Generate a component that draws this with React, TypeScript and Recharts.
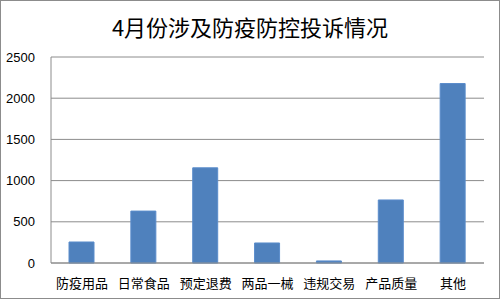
import { BarChart, Bar, XAxis, YAxis, CartesianGrid } from "recharts";

const categories = ["防疫用品", "日常食品", "预定退费", "两品一械", "违规交易", "产品质量", "其他"];
const counts = [255, 630, 1155, 243, 25, 765, 2178];
const yTicks = [0, 500, 1000, 1500, 2000, 2500];

const data = categories.map((name, i) => ({ name, value: counts[i] }));

const font = "'Liberation Sans', 'Noto Sans CJK SC', sans-serif";

export default function App() {
  return (
    <div
      style={{
        position: "absolute",
        left: 0,
        top: 0,
        width: 500,
        height: 299,
        boxSizing: "border-box",
        border: "1px solid #8c8c8c",
        background: "#fff",
        fontFamily: font,
      }}
    >
      <div
        style={{
          position: "absolute",
          left: 0,
          top: 10,
          width: "100%",
          textAlign: "center",
          fontSize: 22,
          lineHeight: "30px",
          fontFamily: "'Noto Sans CJK SC', serif",
          color: "#000",
        }}
      >
        4月份涉及防疫防控投诉情况
      </div>
      <div style={{ position: "absolute", left: -1, top: -1 }}>
        <BarChart
          width={500}
          height={299}
          data={data}
          margin={{ top: 57, right: 16, bottom: 0, left: 0 }}
          barSize={25}
        >
          <CartesianGrid vertical={false} stroke="#8c8c8c" />
          <XAxis
            dataKey="name"
            height={36}
            tickLine={false}
            axisLine={{ stroke: "#8c8c8c" }}
            interval={0}
            tick={{ fontSize: 13, fill: "#000", fontFamily: font }}
            tickMargin={10}
          />
          <YAxis
            width={51}
            domain={[0, 2500]}
            ticks={yTicks}
            tickLine={false}
            axisLine={{ stroke: "#8c8c8c" }}
            tick={{ fontSize: 13, fill: "#000", fontFamily: font }}
            tickMargin={10}
          />
          <Bar dataKey="value" fill="#4f81bd" stroke="#5a8ccb" isAnimationActive={false} />
        </BarChart>
      </div>
    </div>
  );
}
